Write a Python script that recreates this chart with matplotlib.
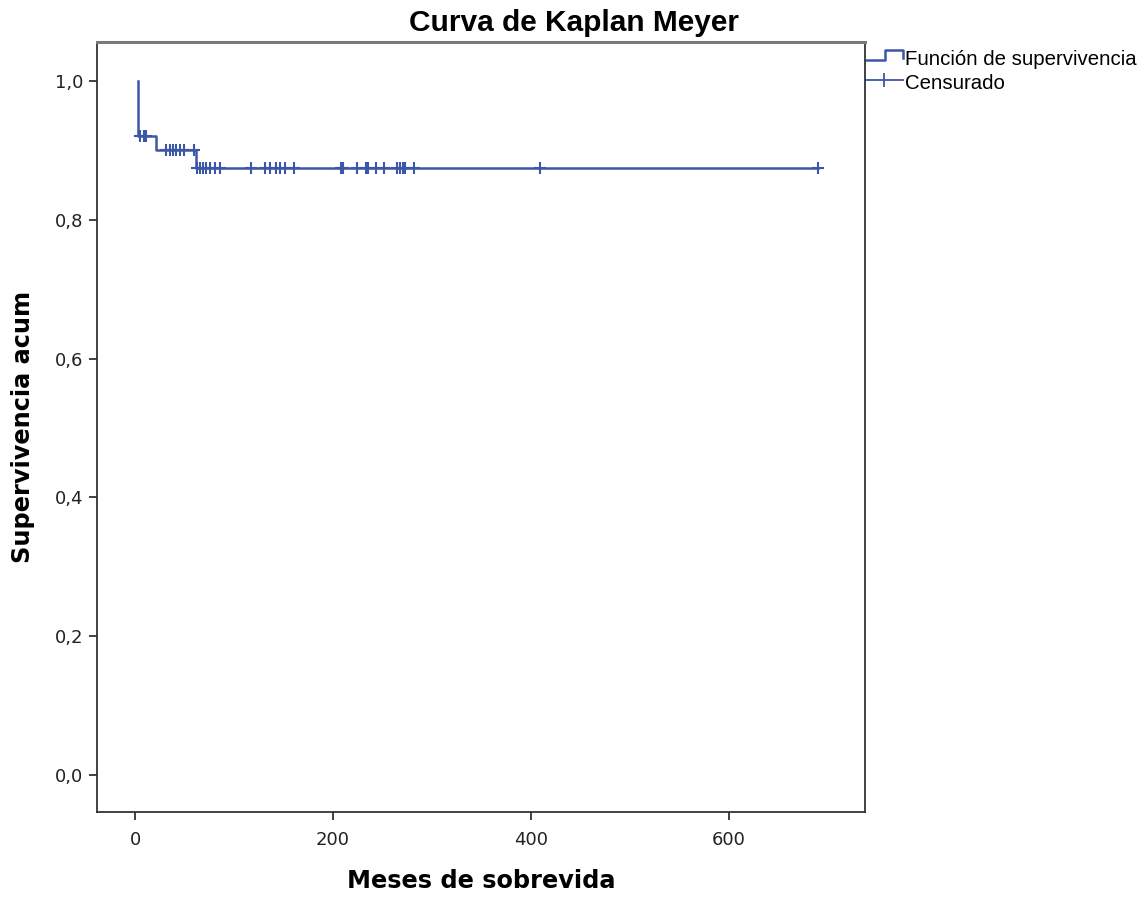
import matplotlib
matplotlib.use("Agg")
import matplotlib.pyplot as plt

# Kaplan-Meier step data
step_times = [2.5, 2.5, 3.3, 21.6, 62.0, 690.0]
step_surv = [1.0, 0.983, 0.921, 0.900, 0.874, 0.874]

# censored observations (time, level)
cens_times = [4.7, 8.8, 11.5,
              31.7, 35.1, 38.4, 41.8, 45.8, 49.9, 59.4,
              62.7, 65.5, 68.8, 72.1, 76.2, 80.3, 85.7, 116.7, 131.8, 136.9,
              142.0, 146.4, 151.7, 160.8, 208.4, 210.7, 224.8, 233.7, 235.0,
              243.8, 251.9, 265.3, 268.0, 270.8, 273.1, 281.6, 409.7, 690.0]
cens_surv = [0.921] * 3 + [0.900] * 7 + [0.874] * 28

x_ticks = [0, 200, 400, 600]
y_ticks = [0.0, 0.2, 0.4, 0.6, 0.8, 1.0]
y_labels = ["0,0", "0,2", "0,4", "0,6", "0,8", "1,0"]

line_color = "#3c56a8"
frame_color = "#333333"

fig = plt.figure(figsize=(11.48, 8.99), dpi=100)
ax = fig.add_axes([0.0845, 0.0968, 0.669, 0.8565])

ax.step(step_times, step_surv, where="post", color=line_color, lw=1.8)
ax.plot(cens_times, cens_surv, ls="none", marker="+", ms=9, mew=1.5,
        color=line_color)

ax.set_xlim(-38.5, 738)
ax.set_ylim(-0.053, 1.056)
ax.set_xticks(x_ticks)
ax.set_yticks(y_ticks)
ax.set_yticklabels(y_labels)

for side in ["left", "bottom", "right"]:
    ax.spines[side].set_color(frame_color)
    ax.spines[side].set_linewidth(1.3)
ax.spines["top"].set_color("#7a7a7a")
ax.spines["top"].set_linewidth(2.2)

ax.tick_params(direction="out", length=6, width=1.3, color=frame_color,
               labelsize=13, labelcolor="#222222")
ax.tick_params(axis="x", pad=8)
ax.tick_params(axis="y", pad=4)
for lab in ax.get_xticklabels() + ax.get_yticklabels():
    lab.set_family("DejaVu Sans")

fig.text(0.5, 1 - 23 / 899, "Curva de Kaplan Meyer", fontsize=21.5,
         fontweight="bold", family="Liberation Sans", ha="center", va="center")
ax.set_xlabel("Meses de sobrevida", fontsize=17.3, fontweight="bold",
              family="DejaVu Sans", labelpad=14)
ax.set_ylabel("Supervivencia acum", fontsize=17.3, fontweight="bold",
              family="DejaVu Sans", labelpad=14)

# legend drawn by hand to get the SPSS step glyph
tr = ax.transAxes
x0, x1 = 1.001, 1.049
ax.plot([x0, x0 + 0.025, x0 + 0.025, x1, x1],
        [0.9765, 0.9765, 0.9895, 0.9895, 0.979], color=line_color, lw=1.8,
        transform=tr, clip_on=False)
ax.plot([x0, x1], [0.9506, 0.9506], color=line_color, lw=1.3,
        transform=tr, clip_on=False)
ax.plot([(x0 + x1) / 2], [0.9506], marker="|", ms=10, mew=1.3,
        color=line_color, transform=tr, clip_on=False)
ax.text(x1 + 0.003, 0.977, "Función de supervivencia", transform=tr,
        fontsize=14.7, family="Liberation Sans", va="center", ha="left")
ax.text(x1 + 0.003, 0.946, "Censurado", transform=tr,
        fontsize=14.7, family="Liberation Sans", va="center", ha="left")

fig.savefig("out.png", dpi=100, facecolor="white")
